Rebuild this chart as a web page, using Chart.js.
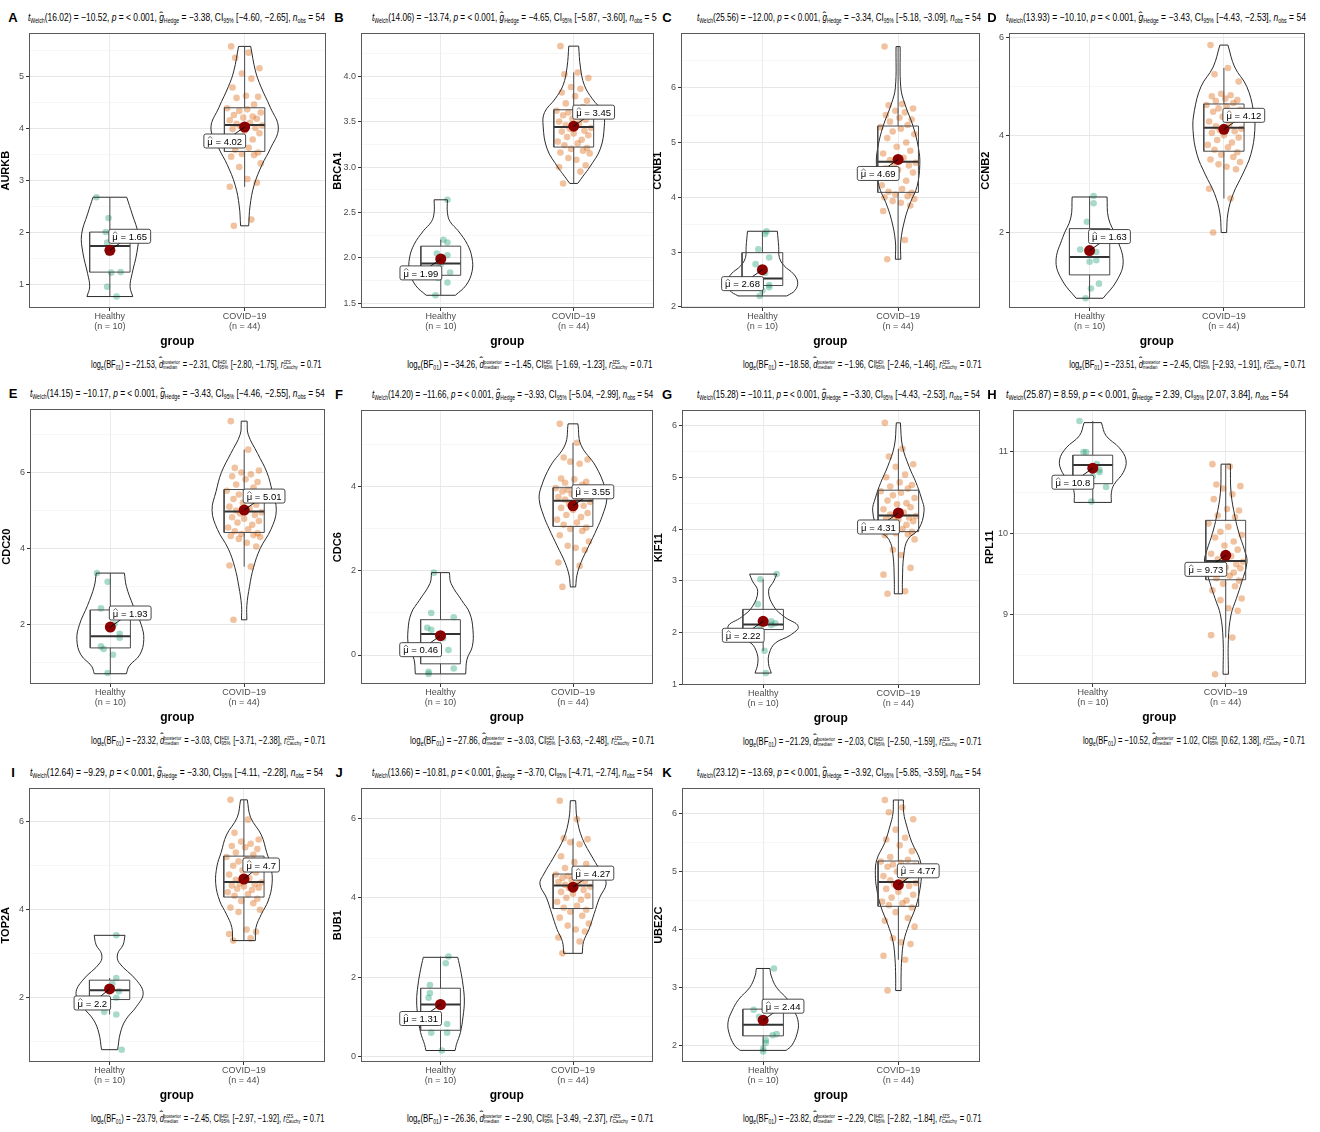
<!DOCTYPE html>
<html>
<head>
<meta charset="utf-8">
<script src="https://cdn.jsdelivr.net/npm/chart.js@4.4.1/dist/chart.umd.min.js"></script>
<style>
  body { margin: 0; background: #fff; width: 1320px; height: 1132px; position: relative; overflow: hidden;
         font-family: 'Liberation Sans Narrow', 'Liberation Sans', Arial, sans-serif; }
  canvas { position: absolute; }
  .letter { position: absolute; font: bold 13px 'Liberation Sans', Arial, sans-serif; transform: translateX(-50%); }
  .tclip { position: absolute; height: 18px; overflow: hidden; }
  .title { position: absolute; left: 0; top: 2px; font-size: 10.5px; white-space: nowrap; color: #000; transform-origin: left center; }
  .sub { position: absolute; font-size: 10px; white-space: nowrap; color: #000; transform-origin: right center; }
  sub { font-size: 6.5px; vertical-align: -2px; }
  .ss { display: inline-flex; flex-direction: column; font-size: 5.8px; line-height: 5.8px; vertical-align: middle; margin-right: 1px; }
  .hat { position: relative; display: inline-block; }
  .hat::before { content: '\02C6'; position: absolute; left: -1px; right: -1px; top: 0px; text-align: center; font-size: 10px; transform: scaleX(1.5); }
  .hat.tall::before { top: -3px; }
</style>
</head>
<body>
<script>
// panel order A..K
const genes = ['AURKB', 'BRCA1', 'CCNB1', 'CCNB2', 'CDC20', 'CDC6', 'KIF11', 'RPL11', 'TOP2A', 'BUB1', 'UBE2C'];
const letters = ['A', 'B', 'C', 'D', 'E', 'F', 'G', 'H', 'I', 'J', 'K'];
const categories = ['Healthy', 'COVID\u221219'];
const groupSizes = [10, 44];

// statistics text
const welchDf = ['16.02', '14.06', '25.56', '13.93', '14.15', '14.20', '15.28', '25.87', '12.64', '13.66', '23.12'];
const welchT = ['\u221210.52', '\u221213.74', '\u221212.00', '\u221210.10', '\u221210.17', '\u221211.66', '\u221210.11', '8.59', '\u22129.29', '\u221210.81', '\u221213.69'];
const hedgeG = ['\u22123.38', '\u22124.65', '\u22123.34', '\u22123.43', '\u22123.43', '\u22123.93', '\u22123.30', '2.39', '\u22123.30', '\u22123.70', '\u22123.92'];
const hedgeCI = [['\u22124.60', '\u22122.65'], ['\u22125.87', '\u22123.60'], ['\u22125.18', '\u22123.09'], ['\u22124.43', '\u22122.53'],
  ['\u22124.46', '\u22122.55'], ['\u22125.04', '\u22122.99'], ['\u22124.43', '\u22122.53'], ['2.07', '3.84'],
  ['\u22124.11', '\u22122.28'], ['\u22124.71', '\u22122.74'], ['\u22125.85', '\u22123.59']];
const logBF = ['\u221221.53', '\u221234.26', '\u221218.58', '\u221223.51', '\u221223.32', '\u221227.86', '\u221221.29', '\u221210.52', '\u221223.79', '\u221226.36', '\u221223.82'];
const dMedian = ['\u22122.31', '\u22121.45', '\u22121.96', '\u22122.45', '\u22123.03', '\u22123.03', '\u22122.03', '1.02', '\u22122.45', '\u22122.90', '\u22122.29'];
const hdiCI = [['\u22122.80', '\u22121.75'], ['\u22121.69', '\u22121.23'], ['\u22122.46', '\u22121.46'], ['\u22122.93', '\u22121.91'],
  ['\u22123.71', '\u22122.38'], ['\u22123.63', '\u22122.48'], ['\u22122.50', '\u22121.59'], ['0.62', '1.38'],
  ['\u22122.97', '\u22121.92'], ['\u22123.49', '\u22122.37'], ['\u22122.82', '\u22121.84']];

// y axes
const yMin = [0.54, 1.45, 1.98, 0.45, 0.43, -0.69, 0.99, 8.15, 0.54, -0.14, 1.72];
const yMax = [5.82, 4.47, 6.99, 6.09, 7.66, 5.82, 6.29, 11.51, 6.76, 6.76, 6.43];
const tickStep = [1, 0.5, 1, 2, 2, 2, 1, 1, 2, 2, 1];

// observations
const healthyValues = [
  [2.67, 2.27, 2.0, 1.8, 1.7, 1.6, 1.23, 1.22, 0.95, 0.76],
  [2.64, 2.2, 2.17, 2.05, 2.03, 1.93, 1.84, 1.78, 1.73, 1.59],
  [3.38, 3.33, 3.05, 2.9, 2.78, 2.62, 2.4, 2.36, 2.3, 2.2],
  [2.75, 2.6, 2.22, 1.65, 1.6, 1.43, 1.4, 0.95, 0.85, 0.65],
  [3.35, 3.12, 2.42, 2.0, 1.75, 1.65, 1.42, 1.35, 1.2, 0.72],
  [1.96, 1.0, 0.9, 0.65, 0.6, 0.4, 0.12, -0.32, -0.4, -0.45],
  [3.13, 3.03, 2.55, 2.22, 2.2, 2.18, 2.15, 2.12, 1.65, 1.22],
  [11.38, 11.0, 11.0, 10.85, 10.8, 10.78, 10.75, 10.7, 10.57, 10.39],
  [3.42, 2.45, 2.32, 2.2, 2.15, 2.0, 1.95, 1.68, 1.62, 0.82],
  [2.52, 2.35, 1.8, 1.6, 1.48, 1.3, 0.82, 0.6, 0.6, 0.15],
  [3.33, 2.62, 2.5, 2.45, 2.2, 2.18, 2.1, 2.05, 1.95, 1.9]
];
const healthyJitter = [
  [-0.1, -0.01, -0.03, -0.02, 0.01, -0.01, 0.08, 0.01, -0.02, 0.05],
  [0.05, 0.02, 0.05, -0.03, 0.05, 0.0, 0.07, -0.02, 0.05, -0.04],
  [0.03, 0.02, -0.03, 0.05, -0.05, 0.02, 0.05, 0.05, 0.0, -0.02],
  [0.03, 0.03, -0.02, -0.07, 0.05, 0.05, 0.0, 0.07, 0.01, -0.03],
  [-0.1, -0.02, -0.07, 0.03, 0.07, 0.07, -0.07, -0.05, 0.02, -0.02],
  [-0.05, -0.07, 0.1, -0.1, -0.07, 0.02, 0.06, 0.1, -0.09, -0.09],
  [0.1, -0.02, -0.04, 0.06, 0.0, 0.09, 0.06, -0.02, 0.01, 0.02],
  [-0.1, -0.07, -0.05, 0.03, 0.01, 0.05, 0.05, 0.0, 0.1, -0.01],
  [0.05, 0.05, 0.02, 0.0, 0.07, 0.05, -0.03, -0.04, 0.05, 0.09],
  [0.06, 0.04, -0.08, -0.08, -0.09, 0.0, 0.05, -0.07, 0.05, 0.01],
  [0.08, -0.07, -0.03, 0.0, 0.1, 0.07, 0.02, 0.02, 0.0, 0.0]
];
const covidValues = [
  [2.12, 2.24, 2.87, 2.95, 3.02, 3.25, 3.32, 3.45, 3.48, 3.5, 3.53, 3.58, 3.62, 3.7, 3.78, 3.82, 3.9, 3.95, 3.98, 4.0, 4.03, 4.05,
   4.08, 4.1, 4.15, 4.18, 4.2, 4.22, 4.25, 4.3, 4.33, 4.36, 4.38, 4.45, 4.58, 4.6, 4.62, 4.78, 4.95, 5.05, 5.15, 5.35, 5.45, 5.57],
  [2.82, 2.95, 3.0, 3.02, 3.08, 3.1, 3.15, 3.16, 3.18, 3.2, 3.21, 3.24, 3.26, 3.28, 3.3, 3.33, 3.35, 3.37, 3.39, 3.4, 3.42, 3.43,
   3.46, 3.48, 3.5, 3.52, 3.53, 3.55, 3.57, 3.58, 3.6, 3.61, 3.62, 3.66, 3.7, 3.73, 3.78, 3.82, 3.86, 3.88, 3.98, 4.02, 4.04, 4.33],
  [2.87, 3.22, 3.75, 3.85, 3.9, 3.93, 3.97, 4.0, 4.02, 4.05, 4.08, 4.1, 4.15, 4.22, 4.3, 4.38, 4.45, 4.5, 4.53, 4.58, 4.6, 4.63,
   4.68, 4.72, 4.8, 4.85, 4.92, 5.0, 5.08, 5.15, 5.2, 5.25, 5.28, 5.32, 5.38, 5.42, 5.45, 5.5, 5.55, 5.58, 5.62, 5.68, 5.7, 6.75],
  [2.0, 2.7, 2.9, 3.3, 3.35, 3.4, 3.45, 3.5, 3.55, 3.6, 3.65, 3.7, 3.75, 3.8, 3.85, 3.9, 3.95, 4.0, 4.05, 4.08, 4.1, 4.13,
   4.18, 4.22, 4.28, 4.32, 4.38, 4.42, 4.48, 4.52, 4.55, 4.6, 4.62, 4.66, 4.7, 4.72, 4.75, 4.8, 4.82, 4.85, 5.1, 5.25, 5.38, 5.85],
  [2.12, 3.52, 3.55, 4.05, 4.15, 4.25, 4.3, 4.33, 4.35, 4.38, 4.4, 4.45, 4.5, 4.55, 4.62, 4.68, 4.72, 4.78, 4.82, 4.88, 4.92, 4.95,
   5.0, 5.05, 5.1, 5.15, 5.2, 5.25, 5.3, 5.38, 5.42, 5.48, 5.52, 5.6, 5.68, 5.75, 5.82, 5.9, 5.95, 6.0, 6.05, 6.12, 6.6, 7.35],
  [1.62, 2.12, 2.2, 2.5, 2.55, 2.6, 2.7, 2.85, 2.95, 3.0, 3.03, 3.1, 3.15, 3.22, 3.28, 3.33, 3.38, 3.45, 3.5, 3.55, 3.6, 3.64,
   3.7, 3.73, 3.76, 3.8, 3.83, 3.86, 3.89, 3.91, 3.93, 3.95, 3.97, 4.05, 4.1, 4.12, 4.18, 4.2, 4.55, 4.6, 4.65, 4.7, 5.05, 5.5],
  [2.75, 2.8, 3.12, 3.25, 3.5, 3.6, 3.8, 3.88, 3.9, 3.92, 3.94, 3.97, 4.0, 4.05, 4.08, 4.12, 4.15, 4.18, 4.2, 4.22, 4.24, 4.25,
   4.28, 4.32, 4.38, 4.42, 4.48, 4.5, 4.55, 4.6, 4.65, 4.7, 4.73, 4.78, 4.82, 4.85, 4.9, 5.0, 5.05, 5.2, 5.25, 5.4, 5.55, 6.05],
  [8.27, 8.72, 8.75, 9.05, 9.08, 9.18, 9.2, 9.3, 9.35, 9.38, 9.42, 9.45, 9.48, 9.5, 9.52, 9.55, 9.57, 9.58, 9.6, 9.62, 9.64, 9.65,
   9.68, 9.72, 9.75, 9.8, 9.85, 9.9, 9.95, 9.98, 10.02, 10.08, 10.12, 10.2, 10.22, 10.28, 10.3, 10.42, 10.48, 10.55, 10.58, 10.6, 10.82, 10.85],
  [3.3, 3.35, 3.45, 3.5, 3.55, 3.95, 4.0, 4.05, 4.15, 4.2, 4.25, 4.32, 4.35, 4.4, 4.45, 4.48, 4.5, 4.53, 4.55, 4.58, 4.6, 4.62,
   4.68, 4.72, 4.8, 4.85, 4.9, 4.95, 5.0, 5.05, 5.1, 5.15, 5.2, 5.25, 5.3, 5.38, 5.42, 5.45, 5.5, 5.55, 5.6, 5.75, 6.05, 6.5],
  [2.6, 2.9, 3.0, 3.15, 3.2, 3.3, 3.35, 3.5, 3.55, 3.65, 3.7, 3.75, 3.8, 3.9, 3.95, 4.0, 4.05, 4.1, 4.15, 4.2, 4.25, 4.28,
   4.33, 4.36, 4.4, 4.42, 4.45, 4.48, 4.5, 4.52, 4.55, 4.57, 4.59, 4.65, 4.75, 4.85, 4.9, 5.05, 5.35, 5.4, 5.48, 5.5, 5.98, 6.45],
  [2.95, 3.48, 3.55, 3.75, 3.78, 3.85, 4.05, 4.15, 4.2, 4.3, 4.38, 4.42, 4.45, 4.48, 4.5, 4.55, 4.6, 4.65, 4.7, 4.75, 4.78, 4.8,
   4.85, 4.88, 4.92, 4.95, 5.0, 5.05, 5.08, 5.1, 5.12, 5.15, 5.17, 5.2, 5.25, 5.35, 5.45, 5.55, 5.58, 5.72, 5.9, 6.02, 6.1, 6.23]
];
const covidJitter = [-0.08, 0.05, -0.11, 0.09, 0.02, -0.04, 0.12, -0.1, 0.07, -0.02, 0.1, -0.07, 0.03, -0.12, 0.06, -0.05, 0.11, 0.0,
  -0.09, 0.08, -0.03, 0.13, -0.06, 0.04, -0.11, 0.09, -0.01, 0.06, -0.08, 0.12, -0.04, 0.02, -0.13, 0.07, -0.06, 0.1, 0.01, -0.09,
  0.05, -0.02, 0.11, -0.07, 0.03, -0.1];

// box stats: [lower whisker, q1, median, q3, upper whisker]
const healthyBox = [[0.76, 1.23, 1.73, 2.0, 2.67], [1.59, 1.81, 1.94, 2.13, 2.2], [2.2, 2.39, 2.52, 2.99, 3.38], [0.65, 1.13, 1.5, 2.08, 2.75],
  [0.72, 1.38, 1.69, 2.38, 3.35], [-0.45, -0.21, 0.5, 0.84, 1.96], [1.65, 2.06, 2.16, 2.45, 3.03], [10.39, 10.61, 10.84, 10.96, 11.38],
  [1.62, 1.96, 2.17, 2.4, 2.45], [0.15, 0.66, 1.31, 1.72, 2.52], [1.9, 2.17, 2.36, 2.63, 3.33]];
const covidBox = [[2.87, 3.55, 4.06, 4.39, 5.57], [2.82, 3.22, 3.44, 3.63, 4.04], [2.87, 4.09, 4.65, 5.3, 6.75], [2.7, 3.67, 4.15, 4.64, 5.38],
  [3.52, 4.42, 4.97, 5.55, 6.6], [1.62, 3.06, 3.67, 3.98, 5.05], [2.75, 3.95, 4.26, 4.75, 5.55], [8.72, 9.43, 9.66, 10.16, 10.85],
  [3.3, 4.29, 4.63, 5.22, 6.5], [2.6, 3.73, 4.31, 4.6, 5.5], [3.48, 4.4, 4.82, 5.18, 6.23]];
const healthyMean = [1.65, 1.99, 2.68, 1.63, 1.93, 0.46, 2.22, 10.8, 2.2, 1.31, 2.44];
const covidMean = [4.02, 3.45, 4.69, 4.12, 5.01, 3.55, 4.31, 9.73, 4.7, 4.27, 4.77];

// violin outlines: [value, half width in category units]
const healthyViolin = [
  [[0.76, 0.17], [0.95, 0.15], [1.2, 0.165], [1.6, 0.2], [1.95, 0.21], [2.35, 0.165], [2.67, 0.125]],
  [[1.59, 0.11], [1.7, 0.19], [1.85, 0.235], [2.0, 0.235], [2.15, 0.2], [2.3, 0.13], [2.4, 0.07], [2.5, 0.05], [2.64, 0.05]],
  [[2.2, 0.18], [2.3, 0.24], [2.45, 0.26], [2.6, 0.23], [2.75, 0.16], [2.9, 0.125], [3.1, 0.12], [3.38, 0.11]],
  [[0.65, 0.1], [1.0, 0.2], [1.4, 0.25], [1.9, 0.2], [2.3, 0.14], [2.73, 0.13]],
  [[0.7, 0.12], [0.9, 0.14], [1.2, 0.22], [1.6, 0.25], [2.0, 0.23], [2.5, 0.17], [3.0, 0.12], [3.35, 0.105]],
  [[-0.45, 0.19], [-0.1, 0.2], [0.2, 0.24], [0.6, 0.245], [1.0, 0.22], [1.3, 0.16], [1.7, 0.08], [1.96, 0.067]],
  [[1.22, 0.06], [1.4, 0.04], [1.6, 0.045], [1.8, 0.09], [1.95, 0.2], [2.12, 0.26], [2.3, 0.16], [2.5, 0.08], [2.8, 0.04], [3.0, 0.08], [3.13, 0.1]],
  [[10.38, 0.14], [10.5, 0.14], [10.6, 0.16], [10.75, 0.23], [10.9, 0.25], [11.05, 0.2], [11.2, 0.1], [11.36, 0.065]],
  [[0.82, 0.06], [1.2, 0.08], [1.5, 0.12], [1.8, 0.2], [2.1, 0.25], [2.4, 0.2], [2.8, 0.07], [3.0, 0.06], [3.2, 0.1], [3.42, 0.115]],
  [[0.15, 0.11], [0.3, 0.12], [0.6, 0.15], [1.0, 0.17], [1.4, 0.18], [1.8, 0.17], [2.2, 0.15], [2.5, 0.13]],
  [[1.92, 0.17], [2.0, 0.21], [2.2, 0.25], [2.4, 0.26], [2.6, 0.23], [2.8, 0.18], [3.0, 0.1], [3.2, 0.06], [3.33, 0.05]]
];
const covidViolin = [
  [[2.12, 0.03], [2.5, 0.04], [2.9, 0.07], [3.3, 0.13], [3.6, 0.19], [4.0, 0.25], [4.4, 0.19], [4.8, 0.12], [5.1, 0.08], [5.57, 0.045]],
  [[2.82, 0.03], [2.9, 0.07], [3.0, 0.12], [3.2, 0.2], [3.45, 0.23], [3.6, 0.22], [3.75, 0.14], [3.9, 0.08], [4.1, 0.05], [4.33, 0.037]],
  [[2.87, 0.02], [3.2, 0.02], [3.6, 0.05], [3.9, 0.09], [4.2, 0.14], [4.6, 0.16], [4.9, 0.15], [5.3, 0.11], [5.7, 0.05], [6.0, 0.02], [6.75, 0.015]],
  [[2.0, 0.02], [2.4, 0.03], [2.8, 0.07], [3.2, 0.14], [3.6, 0.2], [4.1, 0.23], [4.5, 0.22], [5.0, 0.17], [5.4, 0.08], [5.85, 0.03]],
  [[2.12, 0.02], [2.5, 0.02], [3.0, 0.04], [3.5, 0.07], [4.0, 0.12], [4.5, 0.2], [5.0, 0.24], [5.5, 0.21], [6.0, 0.17], [6.5, 0.1], [7.0, 0.03], [7.35, 0.022]],
  [[1.62, 0.02], [1.9, 0.03], [2.2, 0.06], [2.6, 0.12], [3.0, 0.18], [3.3, 0.22], [3.7, 0.255], [4.0, 0.24], [4.5, 0.17], [5.0, 0.06], [5.5, 0.037]],
  [[2.75, 0.03], [3.0, 0.03], [3.5, 0.04], [3.8, 0.07], [4.0, 0.15], [4.35, 0.19], [4.6, 0.17], [4.9, 0.13], [5.2, 0.08], [5.6, 0.03], [6.05, 0.015]],
  [[8.27, 0.02], [8.7, 0.02], [9.0, 0.04], [9.2, 0.08], [9.4, 0.12], [9.65, 0.16], [9.8, 0.14], [10.0, 0.1], [10.2, 0.07], [10.5, 0.04], [10.85, 0.035]],
  [[3.3, 0.085], [3.6, 0.09], [3.9, 0.13], [4.2, 0.18], [4.6, 0.21], [5.0, 0.2], [5.3, 0.17], [5.7, 0.13], [6.1, 0.05], [6.5, 0.025]],
  [[2.6, 0.07], [2.9, 0.08], [3.2, 0.12], [3.6, 0.16], [4.0, 0.2], [4.35, 0.25], [4.6, 0.22], [5.0, 0.15], [5.5, 0.07], [6.0, 0.03], [6.45, 0.02]],
  [[2.95, 0.02], [3.2, 0.02], [3.5, 0.025], [3.8, 0.04], [4.1, 0.08], [4.4, 0.13], [4.7, 0.16], [4.95, 0.17], [5.2, 0.16], [5.5, 0.1], [5.8, 0.06], [6.0, 0.04], [6.23, 0.037]]
];

// layout (page pixels): plot area [left, top, right, bottom], letters, title and subtitle extents
const plotBoxes = [[29, 32, 327, 308], [361, 32, 655, 308], [681, 32, 981, 308], [1009, 32, 1306, 308],
  [30, 408, 326, 684], [361, 409, 654, 684], [682, 409, 981, 685], [1013, 409, 1307, 684],
  [29, 787, 326, 1062], [361, 787, 654, 1062], [682, 787, 981, 1062]];
const letterX = [13, 339, 667, 992, 13, 339, 667, 992, 13, 339, 667];
const titleX = [28, 372, 697, 1006, 30, 372, 697, 1006, 30, 372, 697];
const titleEnd = [325, 661, 981, 1306, 325, 653, 980, 1288, 323, 653, 981];
const subStart = [91, 407, 743, 1069, 91, 410, 743, 1083, 91, 407, 743];
const subEnd = [321, 652, 981, 1305, 325, 654, 981, 1305, 324, 653, 981];
// +1: mean label up and right of the dot, -1: down and left
const healthyLabelSide = [1, -1, -1, 1, 1, -1, -1, -1, -1, -1, 1];
const covidLabelSide = [-1, 1, -1, 1, 1, 1, -1, -1, 1, 1, 1];

const FONT = "'Liberation Sans Narrow', 'Liberation Sans', Arial, sans-serif";
Chart.defaults.font.family = FONT;

function line(data, color, width, extra) {
  return Object.assign({ type: 'scatter', showLine: true, data: data, borderColor: color, borderWidth: width,
    pointRadius: 0, pointHoverRadius: 0, order: 2 }, extra || {});
}

function violinSets(c, prof) {
  const b = prof[0], t = prof[prof.length - 1];
  return [
    line(prof.map(p => ({ x: c + p[1], y: p[0] })), '#2b2b2b', 1, { tension: 0.4 }),
    line(prof.map(p => ({ x: c - p[1], y: p[0] })), '#2b2b2b', 1, { tension: 0.4 }),
    line([{ x: c - b[1], y: b[0] }, { x: c + b[1], y: b[0] }], '#2b2b2b', 1),
    line([{ x: c - t[1], y: t[0] }, { x: c + t[1], y: t[0] }], '#2b2b2b', 1)
  ];
}

function boxSets(c, s) {
  const w = 0.15;
  return [
    line([{ x: c - w, y: s[1] }, { x: c + w, y: s[1] }, { x: c + w, y: s[3] }, { x: c - w, y: s[3] }, { x: c - w, y: s[1] }], '#4a4a4a', 1, { order: 1 }),
    line([{ x: c - w, y: s[2] }, { x: c + w, y: s[2] }], '#333', 2, { order: 1 }),
    line([{ x: c, y: s[0] }, { x: c, y: s[1] }], '#4a4a4a', 1, { order: 1 }),
    line([{ x: c, y: s[3] }, { x: c, y: s[4] }], '#4a4a4a', 1, { order: 1 })
  ];
}

function pointSet(values, jitter, c, color) {
  return { type: 'scatter', data: values.map((v, k) => ({ x: c + jitter[k], y: v })), pointRadius: 3.3, pointHoverRadius: 3.3,
    backgroundColor: color, borderWidth: 0, order: 3 };
}

const framePlugin = {
  id: 'frame',
  afterDatasetsDraw(chart) {
    const a = chart.chartArea, ctx = chart.ctx;
    ctx.save();
    ctx.strokeStyle = '#5a5a5a';
    ctx.lineWidth = 1;
    ctx.strokeRect(Math.round(a.left) + 0.5, Math.round(a.top) + 0.5, Math.round(a.right - a.left) - 1, Math.round(a.bottom - a.top) - 1);
    ctx.restore();
  }
};

const meanLabelPlugin = {
  id: 'meanLabels',
  afterDatasetsDraw(chart, args, opts) {
    const ctx = chart.ctx, xs = chart.scales.x, ys = chart.scales.y;
    ctx.save();
    ctx.font = '9.5px ' + FONT;
    opts.items.forEach(it => {
      const px = xs.getPixelForValue(it.c), py = ys.getPixelForValue(it.v);
      const rest = ' = ' + it.text;
      const muW = ctx.measureText('\u03bc').width;
      const w = muW + ctx.measureText(rest).width + 7, h = 14;
      const cx = px + it.side * (w / 2 - 1), cy = py - it.side * 14;
      ctx.strokeStyle = '#000';
      ctx.lineWidth = 0.9;
      ctx.beginPath(); ctx.moveTo(px, py); ctx.lineTo(cx, cy); ctx.stroke();
      ctx.fillStyle = '#fff';
      ctx.strokeStyle = '#333';
      ctx.beginPath();
      ctx.roundRect(cx - w / 2, cy - h / 2, w, h, 2);
      ctx.fill(); ctx.stroke();
      ctx.fillStyle = '#000';
      ctx.textBaseline = 'middle';
      const tx = cx - w / 2 + 3.5;
      ctx.fillText('\u03bc', tx, cy + 1);
      ctx.fillText(rest, tx + muW, cy + 1);
      ctx.lineWidth = 0.7;
      ctx.beginPath();
      ctx.moveTo(tx + 0.5, cy - 2.5); ctx.lineTo(tx + muW / 2, cy - 4.5); ctx.lineTo(tx + muW - 0.5, cy - 2.5);
      ctx.stroke();
    });
    ctx.restore();
  }
};

function isMajor(v, step) {
  return Math.abs(v / step - Math.round(v / step)) < 1e-6;
}

genes.forEach((gene, i) => {
  const [L, T, R, B] = plotBoxes[i];
  const padT = 6, padR = 4, axW = 30, axH = 42;
  const step = tickStep[i];

  const letter = document.createElement('div');
  letter.className = 'letter';
  letter.textContent = letters[i];
  letter.style.left = letterX[i] + 'px';
  letter.style.top = (T - 22) + 'px';
  document.body.appendChild(letter);

  // title clipped at the panel's right edge, as in the figure
  const clip = document.createElement('div');
  clip.className = 'tclip';
  clip.style.left = titleX[i] + 'px';
  clip.style.top = (T - 23) + 'px';
  clip.style.width = (R + 2 - titleX[i]) + 'px';
  const title = document.createElement('div');
  title.className = 'title';
  title.innerHTML = '<i>t</i><sub>Welch</sub>(' + welchDf[i] + ') = ' + welchT[i] + ', <i>p</i> = &lt; 0.001, ' +
    '<span class="hat"><i>g</i></span><sub>Hedge</sub> = ' + hedgeG[i] + ', CI<sub>95%</sub> [' + hedgeCI[i][0] + ', ' + hedgeCI[i][1] + '], ' +
    '<i>n</i><sub>obs</sub> = ' + (groupSizes[0] + groupSizes[1]);
  clip.appendChild(title);
  document.body.appendChild(clip);
  title.style.transform = 'scaleX(' + ((titleEnd[i] - titleX[i]) / title.offsetWidth).toFixed(3) + ')';

  const sub = document.createElement('div');
  sub.className = 'sub';
  sub.style.right = (1320 - subEnd[i]) + 'px';
  sub.style.top = (B + 51) + 'px';
  sub.innerHTML = 'log<sub>e</sub>(BF<sub>01</sub>) = ' + logBF[i] + ', <span class="hat tall"><i>d</i></span>' +
    '<span class="ss"><span>posterior</span><span>median</span></span> = ' + dMedian[i] +
    ', CI<span class="ss"><span>HDI</span><span>95%</span></span> [' + hdiCI[i][0] + ', ' + hdiCI[i][1] + '], ' +
    '<i>r</i><span class="ss"><span>JZS</span><span>Cauchy</span></span> = 0.71';
  document.body.appendChild(sub);
  sub.style.transform = 'scaleX(' + ((subEnd[i] - subStart[i]) / sub.offsetWidth).toFixed(3) + ')';

  const cv = document.createElement('canvas');
  cv.width = R - L + axW + padR;
  cv.height = B - T + padT + axH;
  cv.style.left = (L - axW) + 'px';
  cv.style.top = (T - padT) + 'px';
  document.body.appendChild(cv);

  const datasets = [].concat(
    [pointSet(healthyValues[i], healthyJitter[i], 1, 'rgba(27,158,119,0.38)'),
     pointSet(covidValues[i], covidJitter, 2, 'rgba(217,95,2,0.38)')],
    violinSets(1, healthyViolin[i]), violinSets(2, covidViolin[i]),
    boxSets(1, healthyBox[i]), boxSets(2, covidBox[i]),
    [{ type: 'scatter', data: [{ x: 1, y: healthyMean[i] }, { x: 2, y: covidMean[i] }], pointRadius: 5.5, pointHoverRadius: 5.5,
       backgroundColor: '#8b0000', borderWidth: 0, order: 0 }]
  );

  new Chart(cv, {
    type: 'scatter',
    data: { datasets: datasets },
    plugins: [framePlugin, meanLabelPlugin],
    options: {
      responsive: false,
      animation: false,
      events: [],
      layout: { padding: { top: padT, right: padR, left: 0, bottom: 0 } },
      plugins: {
        legend: { display: false },
        tooltip: { enabled: false },
        meanLabels: { items: [
          { c: 1, v: healthyMean[i], text: String(healthyMean[i]), side: healthyLabelSide[i] },
          { c: 2, v: covidMean[i], text: String(covidMean[i]), side: covidLabelSide[i] }
        ] }
      },
      scales: {
        x: {
          type: 'linear', min: 0.4, max: 2.6,
          afterFit: s => { s.height = axH; },
          afterBuildTicks: s => { s.ticks = [{ value: 1 }, { value: 2 }]; },
          ticks: {
            autoSkip: false, maxRotation: 0, padding: 1, color: '#4d4d4d', font: { size: 9, lineHeight: 1.05 },
            callback: v => [categories[v - 1], '(n = ' + groupSizes[v - 1] + ')']
          },
          grid: { color: '#ebebeb', lineWidth: 1, tickColor: '#333', tickLength: 3 },
          border: { display: false },
          title: { display: true, text: 'group', color: '#000', padding: { top: 3, bottom: 1 },
                   font: { size: 12, weight: 'bold', family: "'Liberation Sans', Arial, sans-serif" } }
        },
        y: {
          type: 'linear', min: yMin[i], max: yMax[i],
          afterFit: s => { s.width = axW; },
          afterBuildTicks: s => {
            const half = step / 2, ticks = [];
            for (let k = Math.ceil(yMin[i] / half - 1e-9); k * half <= yMax[i] + 1e-9; k++) ticks.push({ value: +(k * half).toFixed(4) });
            s.ticks = ticks;
          },
          ticks: {
            autoSkip: false, padding: 2, color: '#4d4d4d', font: { size: 9 },
            callback: v => isMajor(v, step) ? (step < 1 ? v.toFixed(1) : String(v)) : ''
          },
          grid: {
            color: c => isMajor(c.tick.value, step) ? '#e6e6e6' : '#f2f2f2',
            lineWidth: c => isMajor(c.tick.value, step) ? 1 : 0.7,
            tickColor: c => isMajor(c.tick.value, step) ? '#333' : 'rgba(0,0,0,0)',
            tickLength: 3
          },
          border: { display: false },
          title: { display: true, text: gene, color: '#000', padding: { top: 0, bottom: 1 },
                   font: { size: 11, weight: 'bold', family: "'Liberation Sans', Arial, sans-serif" } }
        }
      }
    }
  });
});
</script>
</body>
</html>
